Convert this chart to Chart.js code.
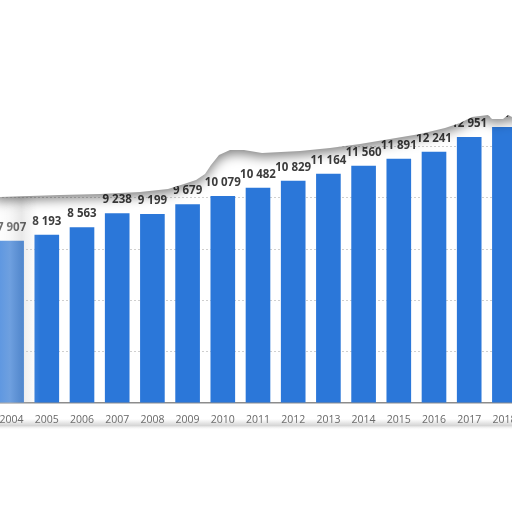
<!DOCTYPE html>
<html>
<head>
<meta charset="utf-8">
<script src="https://cdn.jsdelivr.net/npm/chart.js@4.4.1/dist/chart.umd.min.js"></script>
<style>
  html, body { margin: 0; padding: 0; background: #fff; overflow: hidden; }
  #chart { position: absolute; left: -6px; top: 0; }
</style>
</head>
<body>
<canvas id="chart" width="528" height="512"></canvas>
<script>
// ===== Data =====
const years = ["2004", "2005", "2006", "2007", "2008", "2009", "2010", "2011",
               "2012", "2013", "2014", "2015", "2016", "2017", "2018"];
const values = [7907, 8193, 8563, 9238, 9199, 9679, 10079, 10482,
                10829, 11164, 11560, 11891, 12241, 12951, 13440];
const yMax = 15000;
const yStep = 2500;

// torn paper edge across the top (page px, decoration only)
const tornEdge = [[0, 197], [30, 196], [60, 195], [100, 194], [140, 192], [168, 189],
                  [184, 184], [196, 180], [205, 174], [211, 165], [219, 155], [230, 150],
                  [244, 150], [262, 153], [300, 151], [330, 148], [360, 144], [390, 139],
                  [420, 134], [445, 128], [460, 123], [472, 117], [488, 115], [492, 119],
                  [503, 119], [508, 115], [512, 117]];
const wrapLeft = -6;

function fmt(v) {
    return String(v).replace(/\B(?=(\d{3})+(?!\d))/g, " ");
}

// ===== Plugins =====
const valueLabels = {
    id: "valueLabels",
    afterDatasetsDraw(chart) {
        const ctx = chart.ctx;
        const meta = chart.getDatasetMeta(0);
        ctx.save();
        ctx.font = 'bold 11.5px "Open Sans"';
        ctx.fillStyle = "#3c3c3c";
        ctx.textAlign = "center";
        ctx.textBaseline = "alphabetic";
        meta.data.forEach((bar, i) => ctx.fillText(fmt(values[i]), bar.x, bar.y - 10));
        ctx.restore();
    }
};

const paper = {
    id: "paper",
    afterDraw(chart) {
        const ctx = chart.ctx;
        const w = chart.width;
        const area = chart.chartArea;
        ctx.save();

        // soft fold on the left edge
        const fold = ctx.createLinearGradient(0, 0, 46, 0);
        fold.addColorStop(0, "rgba(255,255,255,0.2)");
        fold.addColorStop(0.35, "rgba(235,235,235,0.35)");
        fold.addColorStop(0.6, "rgba(180,180,180,0.3)");
        fold.addColorStop(0.8, "rgba(200,200,200,0.15)");
        fold.addColorStop(1, "rgba(255,255,255,0)");
        ctx.fillStyle = fold;
        ctx.fillRect(0, 190, 46, area.bottom - 190);

        // bottom shadow under the year labels
        const bottom = ctx.createLinearGradient(0, 419, 0, 430);
        bottom.addColorStop(0, "rgba(150,150,150,0)");
        bottom.addColorStop(0.6, "rgba(150,150,150,0.4)");
        bottom.addColorStop(1, "rgba(255,255,255,0)");
        ctx.fillStyle = bottom;
        ctx.fillRect(0, 419, w, 11);

        // torn top
        ctx.beginPath();
        ctx.moveTo(0, 0);
        ctx.lineTo(w, 0);
        ctx.lineTo(w, tornEdge[tornEdge.length - 1][1]);
        for (let i = tornEdge.length - 1; i >= 0; i--) {
            ctx.lineTo(tornEdge[i][0] - wrapLeft, tornEdge[i][1]);
        }
        ctx.lineTo(0, tornEdge[0][1]);
        ctx.closePath();
        ctx.shadowColor = "rgba(0,0,0,0.5)";
        ctx.shadowBlur = 12;
        ctx.shadowOffsetY = 4;
        ctx.fillStyle = "#fff";
        ctx.fill();
        ctx.restore();
    }
};

// ===== Chart =====
const chart1 = new Chart(document.getElementById("chart"), {
    type: "bar",
    data: {
        labels: years,
        datasets: [{
            data: values,
            backgroundColor: "#2b77d9",
            borderWidth: 0,
            barPercentage: 0.7,
            categoryPercentage: 1
        }]
    },
    options: {
        responsive: false,
        animation: false,
        layout: { padding: { top: 95, left: 0, right: 0, bottom: 0 } },
        plugins: { legend: { display: false }, tooltip: { enabled: false } },
        scales: {
            x: {
                grid: { display: false },
                border: { display: true, color: "#8c8c8c", width: 1.5 },
                ticks: {
                    color: "#666",
                    font: { family: "Open Sans", size: 10.5 },
                    padding: 3,
                    maxRotation: 0,
                    autoSkip: false
                },
                afterFit(scale) { scale.height = 109; }
            },
            y: {
                min: 0,
                max: yMax,
                ticks: { display: false, stepSize: yStep },
                grid: {
                    drawTicks: false,
                    lineWidth: 1,
                    color: c => (c.tick.value > 0 && c.tick.value < yMax) ? "#cfcfcf" : "transparent"
                },
                border: { display: false, dash: [2, 2] },
                afterFit(scale) { scale.width = 0; }
            }
        }
    },
    plugins: [valueLabels, paper]
});
</script>
</body>
</html>
